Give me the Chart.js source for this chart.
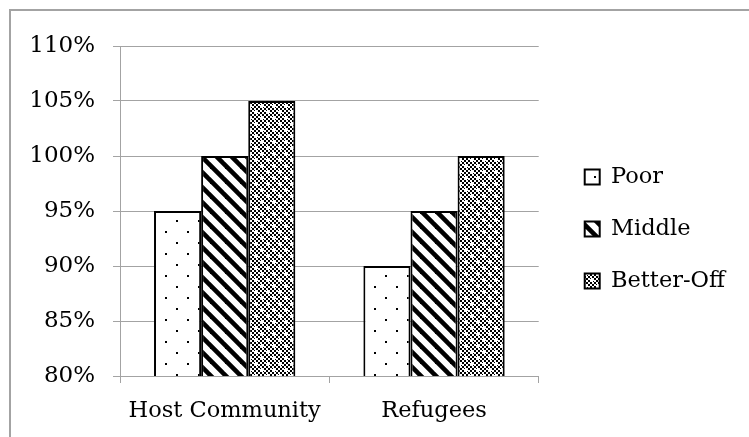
<!DOCTYPE html>
<html>
<head>
<meta charset="utf-8">
<script src="https://cdn.jsdelivr.net/npm/chart.js@4/dist/chart.umd.min.js"></script>
<style>
  html, body { margin: 0; padding: 0; background: #ffffff; overflow: hidden; }
  #wrap { position: relative; width: 749px; height: 437px; }
  #frame {
    position: absolute; left: 9px; top: 9px; width: 760px; height: 460px;
    border: 2px solid #a3a3a3; box-sizing: border-box; pointer-events: none;
  }
  canvas { position: absolute; left: 0; top: 0; }
</style>
</head>
<body>
<div id="wrap">
  <canvas id="chart" width="749" height="437"></canvas>
  <div id="frame"></div>
</div>
<script>
// Categories, series and axis ticks
const categories = ['Host Community', 'Refugees'];
const seriesNames = ['Poor', 'Middle', 'Better-Off'];
const poorValues = [95, 90];
const middleValues = [100, 95];
const betterOffValues = [105, 100];
const yTicks = [80, 85, 90, 95, 100, 105, 110];

const GRID = '#a3a3a3';
const FONT = 'DejaVu Serif';

const canvas = document.getElementById('chart');
const mainCtx = canvas.getContext('2d');

function makeTile(w, h, paint) {
  const c = document.createElement('canvas');
  c.width = w; c.height = h;
  const g = c.getContext('2d');
  g.fillStyle = '#ffffff';
  g.fillRect(0, 0, w, h);
  paint(g, w, h);
  return mainCtx.createPattern(c, 'repeat');
}

// Sparse staggered dots
const dotsPattern = makeTile(22, 22, (g) => {
  g.fillStyle = '#000000';
  g.fillRect(0, 0, 2, 2);
  g.fillRect(11, 11, 2, 2);
});

// Wide diagonal stripes running down to the right
const stripePattern = makeTile(15, 15, (g, w, h) => {
  g.strokeStyle = '#000000';
  g.lineWidth = 4.6;
  for (let k = -1; k <= 1; k++) {
    g.beginPath();
    g.moveTo(k * w - 2, -2);
    g.lineTo(k * w + w + 2, h + 2);
    g.stroke();
  }
});

// Fine checkerboard with small white flecks
const checkerPattern = makeTile(12, 12, (g) => {
  g.fillStyle = '#000000';
  for (let y = 0; y < 12; y += 2) {
    for (let x = 0; x < 12; x += 2) {
      if (((x + y) / 2) % 2 === 0) g.fillRect(x, y, 2, 2);
    }
  }
  g.fillStyle = '#ffffff';
  g.fillRect(2, 3, 4, 2);
  g.fillRect(3, 2, 2, 4);
  g.fillRect(8, 9, 4, 2);
  g.fillRect(9, 8, 2, 4);
});

const fills = [dotsPattern, stripePattern, checkerPattern];
const values = [poorValues, middleValues, betterOffValues];

new Chart(mainCtx, {
  type: 'bar',
  data: {
    labels: categories,
    datasets: seriesNames.map((name, i) => ({
      label: name,
      data: values[i],
      backgroundColor: fills[i],
      borderColor: '#000000',
      borderWidth: 2,
      borderSkipped: 'start',
      barPercentage: 1.0,
      categoryPercentage: 0.675
    }))
  },
  options: {
    responsive: false,
    animation: false,
    devicePixelRatio: 1,
    layout: { padding: { left: 0, top: 46, right: 14, bottom: 0 } },
    plugins: {
      tooltip: { enabled: false },
      legend: {
        position: 'right',
        fullSize: false,
        maxWidth: 220,
        title: { display: true, text: '', font: { size: 6, lineHeight: 1 }, padding: 15 },
        labels: {
          color: '#000000',
          font: { family: FONT, size: 22.5 },
          boxWidth: 15,
          boxHeight: 15,
          padding: 29.5
        }
      }
    },
    scales: {
      x: {
        grid: {
          display: true,
          offset: true,
          drawOnChartArea: false,
          drawTicks: true,
          tickLength: 7,
          color: GRID,
          lineWidth: 1
        },
        border: { display: true, color: GRID, width: 1 },
        ticks: {
          color: '#000000',
          font: { family: FONT, size: 22.5 },
          padding: 15,
          maxRotation: 0
        },
        afterFit: (s) => { s.height = 61; }
      },
      y: {
        min: yTicks[0],
        max: yTicks[yTicks.length - 1],
        afterBuildTicks: (s) => { s.ticks = yTicks.map(v => ({ value: v })); },
        grid: {
          color: GRID,
          lineWidth: 1,
          drawTicks: true,
          tickLength: 7
        },
        border: { display: true, color: GRID, width: 1 },
        ticks: {
          color: '#000000',
          font: { family: FONT, size: 23 },
          padding: 18,
          callback: (v) => v + '%'
        },
        afterFit: (s) => { s.width = 120; }
      },
      gap: {
        type: 'linear',
        position: 'right',
        display: true,
        grid: { display: false, drawTicks: false },
        border: { display: false },
        ticks: { display: false },
        afterFit: (s) => { s.width = 16.5; }
      }
    }
  }
});
</script>
</body>
</html>
